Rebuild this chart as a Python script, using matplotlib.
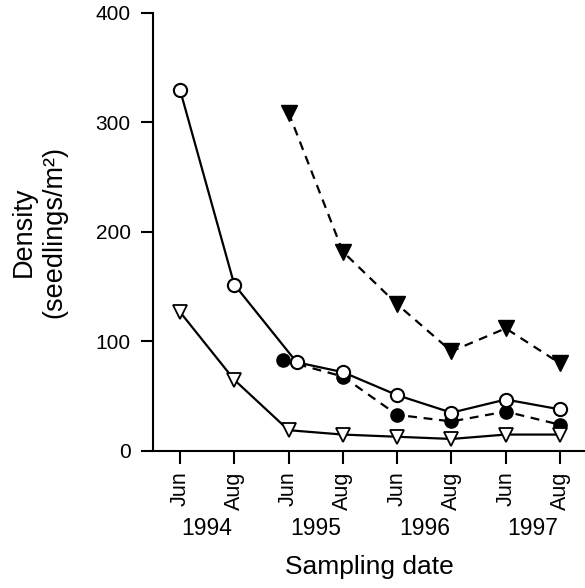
import numpy as np
import matplotlib
matplotlib.use("Agg")
import matplotlib.pyplot as plt
from matplotlib.transforms import blended_transform_factory

plt.rcParams["font.family"] = ["Liberation Sans", "DejaVu Sans"]

# Sampling dates
months = ["Jun", "Aug", "Jun", "Aug", "Jun", "Aug", "Jun", "Aug"]
years = ["1994", "1995", "1996", "1997"]

# Seedling densities (seedlings/m2)
open_circle = [330, 152, 81, 72, 51, 35, 47, 38]
filled_circle = [np.nan, np.nan, 83, 68, 33, 27, 36, 24]
filled_tri = [np.nan, np.nan, 309, 182, 134, 91, 112, 80]
open_tri = [127, 65, 19, 15, 13, 11, 15, 15]

x = np.arange(len(months), dtype=float)

fig = plt.figure(figsize=(5.85, 5.88), dpi=100)
ax = fig.add_axes([0.2615, 0.233, 0.7385, 0.745])

lw = 1.6
ms = 9.5

# small horizontal offset where the two circle series overlap (Jun 1995)
x_fc = x.copy()
x_fc[2] -= 0.11
x_oc = x.copy()
x_oc[2] += 0.15

ax.plot(x, filled_tri, color="black", lw=lw, ls=(0, (4, 3)),
        marker="v", ms=11.5, mfc="black", mec="black", zorder=3)
ax.plot(x_fc, filled_circle, color="black", lw=lw, ls=(0, (4, 3)),
        marker="o", ms=ms, mfc="black", mec="black", zorder=3)
ax.plot(x_oc, open_circle, color="black", lw=lw, ls="-",
        marker="o", ms=ms, mfc="white", mec="black", mew=1.5, zorder=4)
ax.plot(x, open_tri, color="black", lw=lw, ls="-",
        marker="v", ms=10.5, mfc="white", mec="black", mew=1.3, zorder=4)

ax.set_xlim(-0.497, 7.46)
ax.set_ylim(0, 400)
ax.set_yticks([0, 100, 200, 300, 400])
ax.set_xticks(x)
ax.set_xticklabels(months, rotation=90, va="top")

for s in ["top", "right"]:
    ax.spines[s].set_visible(False)
for s in ["left", "bottom"]:
    ax.spines[s].set_linewidth(1.5)

ax.tick_params(axis="y", direction="out", length=8.5, width=1.5, labelsize=15, pad=7.5)
ax.tick_params(axis="x", direction="out", length=9.5, width=1.5, labelsize=15.5, pad=5)

trans = blended_transform_factory(ax.transData, ax.transAxes)
for i, yr in enumerate(years):
    ax.text(2 * i + 0.5, -0.176, yr, transform=trans, ha="center", va="center",
            fontsize=16.5)

ax.set_xlabel("Sampling date", fontsize=19)
ax.xaxis.set_label_coords(0.5, -0.237)
ax.set_ylabel("Density\n(seedlings/m²)", fontsize=19.5, linespacing=1.25)
ax.yaxis.set_label_coords(-0.197, 0.5)

fig.savefig("out.png", dpi=100)
